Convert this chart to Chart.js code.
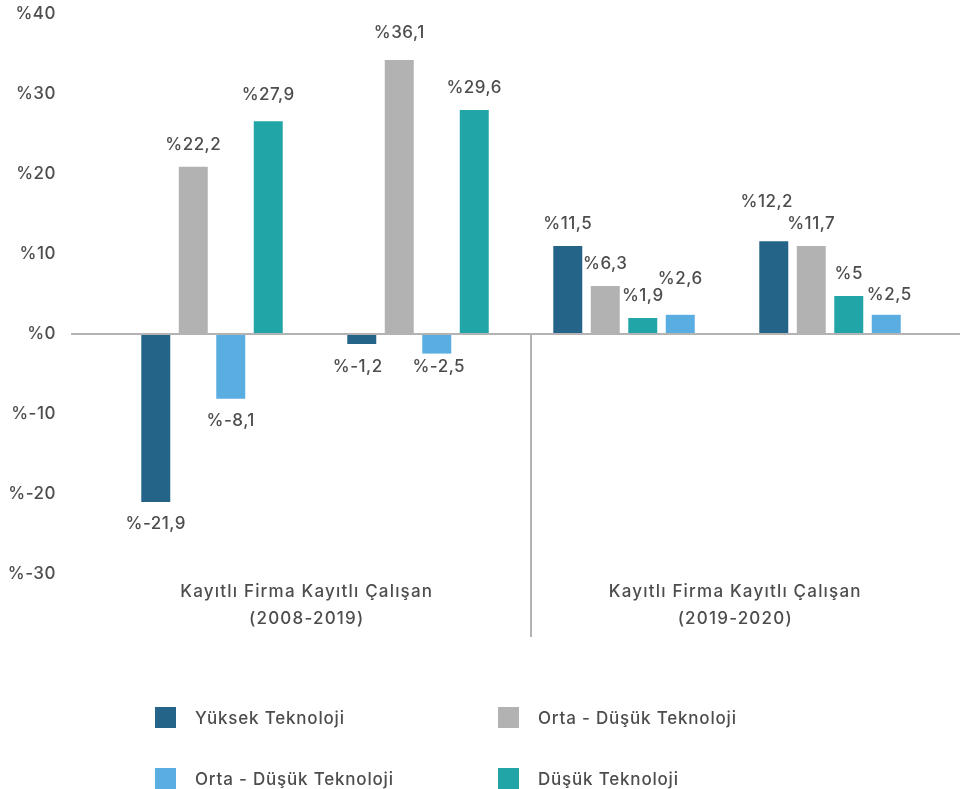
<!DOCTYPE html>
<html lang="tr">
<head>
<meta charset="utf-8">
<title>Teknoloji düzeyine göre kayıtlı çalışan değişimi</title>
<script src="https://cdn.jsdelivr.net/npm/chart.js@4.4.1/dist/chart.umd.min.js"></script>
<style>
  html, body { margin: 0; padding: 0; background: #fff; }
  .wrap { position: relative; width: 960px; height: 789px; overflow: hidden; }
  #chart { position: absolute; left: 0; top: 0; }
  .legend-item {
    position: absolute; display: flex; align-items: center; height: 21px;
    font-family: Inter, Lato, sans-serif; font-size: 17px; font-weight: 500;
    letter-spacing: 0.8px; color: #4d4d4d; white-space: nowrap;
  }
  .swatch { width: 21px; height: 21px; margin-right: 19px; flex: none; }
</style>
</head>
<body>
<div class="wrap">
  <canvas id="chart" width="960" height="789"></canvas>
  <div id="legend"></div>
</div>
<script>
// groups on the x axis (two periods, two bar groups each)
const groups = [0, 1, 2, 3];
const groupTitles = [
  ['Kayıtlı Firma Kayıtlı Çalışan', '(2008-2019)'],
  ['Kayıtlı Firma Kayıtlı Çalışan', '(2019-2020)']
];

const seriesNames = ['Yüksek Teknoloji', 'Orta - Düşük Teknoloji', 'Orta - Düşük Teknoloji', 'Düşük Teknoloji'];
const seriesColors = ['#236488', '#b2b2b2', '#5aade1', '#21a5a7'];

// bar heights as drawn
const yuksek = [-21.0, -1.25, 11.0, 11.6];
const ortaDusukGri = [20.9, 34.25, 6.0, 11.0];
const ortaDusukMavi = [-8.1, -2.45, 2.4, 2.4];
const dusuk = [26.6, 28.0, 2.0, 4.75];

// numbers printed on the bars
const yuksekText = [-21.9, -1.2, 11.5, 12.2];
const ortaDusukGriText = [22.2, 36.1, 6.3, 11.7];
const ortaDusukMaviText = [-8.1, -2.5, 2.6, 2.5];
const dusukText = [27.9, 29.6, 1.9, 5];

const yTicks = [40, 30, 20, 10, 0, -10, -20, -30];

const seriesValues = [yuksek, ortaDusukGri, ortaDusukMavi, dusuk];
const seriesText = [yuksekText, ortaDusukGriText, ortaDusukMaviText, dusukText];
// in the 2019-2020 groups the last two bars swap places
const slotOrder = [[0, 1, 2, 3], [0, 1, 2, 3], [0, 1, 3, 2], [0, 1, 3, 2]];

const font = 'Inter, Lato, sans-serif';
const textColor = '#4d4d4d';
const lineColor = '#b3b3b3';

const datasets = [0, 1, 2, 3].map(slot => ({
  label: 'slot' + slot,
  data: groups.map(g => ({ x: g, y: seriesValues[slotOrder[g][slot]][g] })),
  printed: groups.map(g => seriesText[slotOrder[g][slot]][g]),
  backgroundColor: groups.map(g => seriesColors[slotOrder[g][slot]]),
  categoryPercentage: 0.728,
  barPercentage: 0.773
}));

// small hand placements of a few value labels [dx, lift]
const labelNudge = {
  '0-1': [-4, 23], '2-1': [2, 13], '1-1': [0, 27], '3-0': [0, 26],
  '3-2': [0, 36], '0-3': [-7, 39], '3-3': [3, 20]
};

const spacing = {
  id: 'spacing',
  beforeDraw(chart) { chart.ctx.letterSpacing = '0.5px'; }
};

const valueLabels = {
  id: 'valueLabels',
  afterDatasetsDraw(chart) {
    const ctx = chart.ctx;
    ctx.save();
    ctx.font = '500 17px ' + font;
    ctx.fillStyle = textColor;
    ctx.textAlign = 'center';
    ctx.textBaseline = 'middle';
    chart.data.datasets.forEach((ds, di) => {
      chart.getDatasetMeta(di).data.forEach((bar, i) => {
        const v = ds.data[i].y;
        const nudge = labelNudge[di + '-' + i] || [0, 22];
        const y = v >= 0 ? bar.y - nudge[1] : bar.y + nudge[1];
        ctx.fillText('%' + String(ds.printed[i]).replace('.', ','), bar.x + nudge[0], y);
      });
    });
    ctx.restore();
  }
};

const groupDecor = {
  id: 'groupDecor',
  afterDraw(chart) {
    const { ctx, chartArea } = chart;
    const x = chart.scales.x, y = chart.scales.y;
    const zeroY = y.getPixelForValue(0);
    ctx.save();
    ctx.fillStyle = lineColor;
    ctx.fillRect(Math.round(x.getPixelForValue(1.55)) - 1, zeroY, 2, 303);
    ctx.font = '500 17px ' + font;
    ctx.letterSpacing = '1.2px';
    ctx.fillStyle = textColor;
    ctx.textAlign = 'center';
    ctx.textBaseline = 'middle';
    [0.46, 2.54].forEach((pos, i) => {
      const cx = x.getPixelForValue(pos);
      ctx.fillText(groupTitles[i][0], cx, chartArea.bottom + 18);
      ctx.fillText(groupTitles[i][1], cx, chartArea.bottom + 45);
    });
    ctx.restore();
  }
};

new Chart(document.getElementById('chart'), {
  type: 'bar',
  data: { datasets },
  options: {
    responsive: false,
    animation: false,
    layout: { padding: { top: 14, bottom: 215, left: 0, right: 0 } },
    plugins: {
      legend: { display: false },
      tooltip: { enabled: false }
    },
    scales: {
      x: {
        type: 'linear',
        display: false,
        offset: false,
        min: -0.6845,
        max: 3.631,
        grid: { offset: false },
        ticks: { stepSize: 1, includeBounds: false }
      },
      y: {
        min: -30,
        max: 40,
        afterBuildTicks: scale => { scale.ticks = yTicks.map(v => ({ value: v })); },
        afterFit: scale => {
          scale.width = 71;
          scale.paddingTop = 0;
          scale.paddingBottom = 0;
        },
        border: { display: false },
        grid: {
          drawTicks: false,
          lineWidth: 2,
          color: c => (c.tick && c.tick.value === 0 ? lineColor : 'rgba(0,0,0,0)')
        },
        ticks: {
          padding: 15,
          color: textColor,
          font: { family: font, size: 17, weight: 500 },
          callback: v => '%' + v
        }
      }
    }
  },
  plugins: [spacing, valueLabels, groupDecor]
});

// legend, two columns
const legendPos = [[155, 707], [498, 707], [155, 768], [498, 768]];
const legend = document.getElementById('legend');
seriesNames.forEach((name, i) => {
  const item = document.createElement('div');
  item.className = 'legend-item';
  item.style.left = legendPos[i][0] + 'px';
  item.style.top = legendPos[i][1] + 'px';
  const sw = document.createElement('span');
  sw.className = 'swatch';
  sw.style.background = seriesColors[i];
  item.appendChild(sw);
  item.appendChild(document.createTextNode(name));
  legend.appendChild(item);
});
</script>
</body>
</html>
